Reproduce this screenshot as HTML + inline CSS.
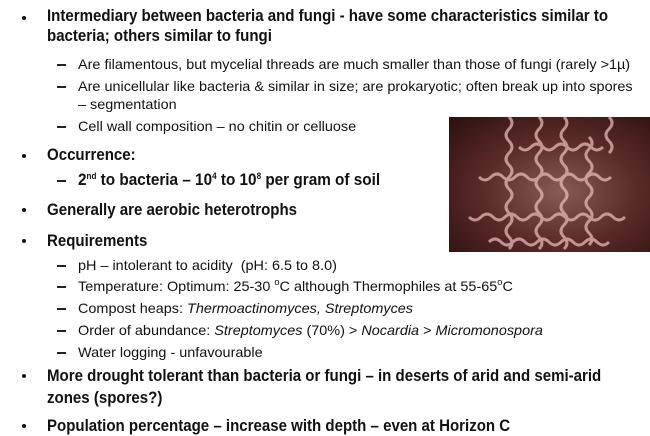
<!DOCTYPE html>
<html><head><meta charset="utf-8"><style>
html,body{margin:0;padding:0;background:#fff;}
body{width:650px;height:435px;position:relative;overflow:hidden;font-family:"Liberation Sans",sans-serif;color:#111;}
.l{position:absolute;white-space:nowrap;transform-origin:0 50%;line-height:20px;}
.m{font-size:17px;font-weight:bold;transform:scaleX(0.885);left:47px;}
.s{font-size:14px;transform:scaleX(1.03);left:78px;}
.b{position:absolute;left:22px;width:4px;height:4px;border-radius:50%;background:#111;}
.d{position:absolute;left:57px;width:9px;height:1.5px;background:#222;}
sup{font-size:9px;line-height:0;vertical-align:6px;}
#img{position:absolute;left:449px;top:117px;width:201px;height:135px;background:radial-gradient(ellipse at 55% 55%,#8a5a58 0%,#5a2a28 50%,#2a0f0f 100%);overflow:hidden;}
</style></head><body>
<div class="b" style="top:16px"></div>
<div class="l m" style="top:6px">Intermediary between bacteria and fungi - have some characteristics similar to</div>
<div class="l m" style="top:26px">bacteria; others similar to fungi</div>
<div class="d" style="top:64px"></div>
<div class="l s" style="top:54px">Are filamentous, but mycelial threads are much smaller than those of fungi (rarely &gt;1µ)</div>
<div class="d" style="top:86px"></div>
<div class="l s" style="top:76px">Are unicellular like bacteria &amp; similar in size; are prokaryotic; often break up into spores</div>
<div class="l s" style="top:94px">– segmentation</div>
<div class="d" style="top:126px"></div>
<div class="l s" style="top:116px">Cell wall composition – no chitin or celluose</div>
<div class="b" style="top:154px"></div>
<div class="l m" style="top:145px">Occurrence:</div>
<div class="d" style="top:180px;height:2px"></div>
<div class="l" style="top:170px;left:78px;font-weight:bold;font-size:17px;transform:scaleX(0.9)">2<sup>nd</sup> to bacteria – 10<sup>4</sup> to 10<sup>8</sup> per gram of soil</div>
<div class="b" style="top:208px"></div>
<div class="l m" style="top:200px">Generally are aerobic heterotrophs</div>
<div class="b" style="top:239px"></div>
<div class="l m" style="top:231px">Requirements</div>
<div class="d" style="top:265px"></div>
<div class="l s" style="top:255px">pH – intolerant to acidity &nbsp;(pH: 6.5 to 8.0)</div>
<div class="d" style="top:286px"></div>
<div class="l s" style="top:276px">Temperature: Optimum: 25-30 <sup>o</sup>C although Thermophiles at 55-65<sup>o</sup>C</div>
<div class="d" style="top:308px"></div>
<div class="l s" style="top:298px">Compost heaps: <i>Thermoactinomyces, Streptomyces</i></div>
<div class="d" style="top:330px"></div>
<div class="l s" style="top:320px">Order of abundance: <i>Streptomyces</i> (70%) &gt; <i>Nocardia</i> &gt; <i>Micromonospora</i></div>
<div class="d" style="top:352px"></div>
<div class="l s" style="top:342px">Water logging - unfavourable</div>
<div class="b" style="top:374px"></div>
<div class="l m" style="top:366px">More drought tolerant than bacteria or fungi – in deserts of arid and semi-arid</div>
<div class="l m" style="top:388px">zones (spores?)</div>
<div class="b" style="top:424px"></div>
<div class="l m" style="top:416px">Population percentage – increase with depth – even at Horizon C</div>
<div id="img">
<svg width="201" height="135" fill="none" stroke="#e6b8b8" stroke-width="3" opacity="0.75">
<path d="M60 0 q6 6 0 12 t0 12 t0 12 t0 12 t0 12 t0 12 t0 12 t0 12 t0 12 t0 12 t0 12"/>
<path d="M90 0 q6 6 0 12 t0 12 t0 12 t0 12 t0 12 t0 12 t0 12 t0 12 t0 12 t0 12 t0 12"/>
<path d="M115 0 q6 6 0 12 t0 12 t0 12 t0 12 t0 12 t0 12 t0 12 t0 12 t0 12 t0 12 t0 12"/>
<path d="M140 20 q6 6 0 12 t0 12 t0 12 t0 12 t0 12 t0 12 t0 12 t0 12 t0 12"/>
<path d="M30 60 q6 6 12 0 t12 0 t12 0 t12 0 t12 0 t12 0 t12 0 t12 0 t12 0 t12 0 t12 0"/>
<path d="M20 100 q6 6 12 0 t12 0 t12 0 t12 0 t12 0 t12 0 t12 0 t12 0 t12 0 t12 0 t12 0 t12 0 t12 0"/>
<path d="M70 30 q6 6 12 0 t12 0 t12 0 t12 0 t12 0 t12 0 t12 0"/>
<path d="M40 125 q6 -6 12 0 t12 0 t12 0 t12 0 t12 0 t12 0 t12 0 t12 0 t12 0 t12 0"/>
<path d="M160 0 q6 6 0 12 t0 12 t0 12"/>
</svg>
</div>
</body></html>
